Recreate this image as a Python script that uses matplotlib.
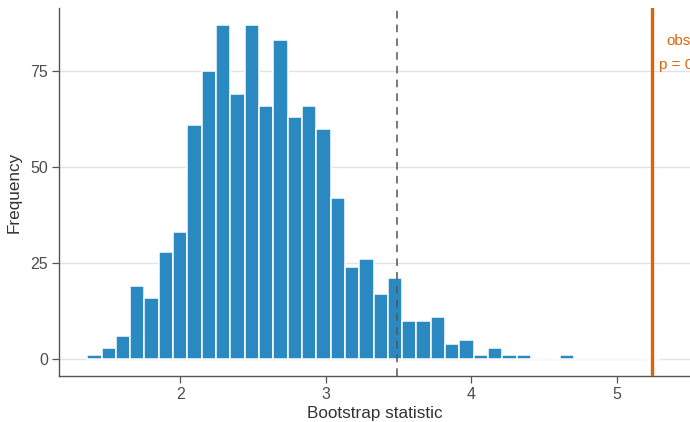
import matplotlib
matplotlib.use("Agg")
import matplotlib.pyplot as plt
import numpy as np

# ---- data ----
bin_first_center = 1.408
bin_width = 0.0984
counts = [1, 3, 6, 19, 16, 28, 33, 61, 75, 87, 69, 87, 66, 83, 63, 66, 60,
          42, 24, 26, 17, 21, 10, 10, 11, 4, 5, 1, 3, 1, 1, 0, 0, 1,
          0, 0, 0, 0, 0, 0]
ci_upper = 3.488
observed = 5.24
obs_label_1 = "observed"
obs_label_2 = "p = 0.000"
x_ticks = [2, 3, 4, 5]
y_ticks = [0, 25, 50, 75]
x_label = "Bootstrap statistic"
y_label = "Frequency"

plt.rcParams['font.family'] = ['Liberation Sans', 'DejaVu Sans']

fig = plt.figure(figsize=(6.9, 4.22), dpi=100)
ax = fig.add_axes([59/690, 46/422, 1 - 59/690, (376-8)/422])

centers = bin_first_center + bin_width * np.arange(len(counts))
ax.bar(centers, counts, width=bin_width, color="#2a89c0", edgecolor="white",
       linewidth=1.1, zorder=2)

ax.axvline(ci_upper, color="#555555", linestyle=(0, (5, 4)), linewidth=1.1, zorder=3)
ax.axvline(observed, color="#DE640C", linewidth=2.4, zorder=3)
ax.text(observed + 0.1, 82.8, obs_label_1, color="#DE640C", fontsize=11,
        ha="left", va="center", zorder=4)
ax.text(observed + 0.05, 76.6, obs_label_2, color="#DE640C", fontsize=11,
        ha="left", va="center", zorder=4)

ax.set_xlim(1.165, 5.502)
ax.set_ylim(-4.4, 91.4)
ax.set_xticks(x_ticks)
ax.set_yticks(y_ticks)
ax.yaxis.grid(True, color="#e3e3e3", linewidth=1.0, zorder=0)
ax.set_axisbelow(True)

for s in ["top", "right"]:
    ax.spines[s].set_visible(False)
for s in ["left", "bottom"]:
    ax.spines[s].set_color("#555555")
    ax.spines[s].set_linewidth(1.0)
ax.tick_params(axis="both", colors="#555555", length=5, width=0.9,
               labelsize=11.5, labelcolor="#4d4d4d", pad=3)

ax.set_xlabel(x_label, fontsize=12.3, color="#333333", labelpad=3)
ax.set_ylabel(y_label, fontsize=12.3, color="#333333", labelpad=6)

fig.savefig("out.png", dpi=100)
